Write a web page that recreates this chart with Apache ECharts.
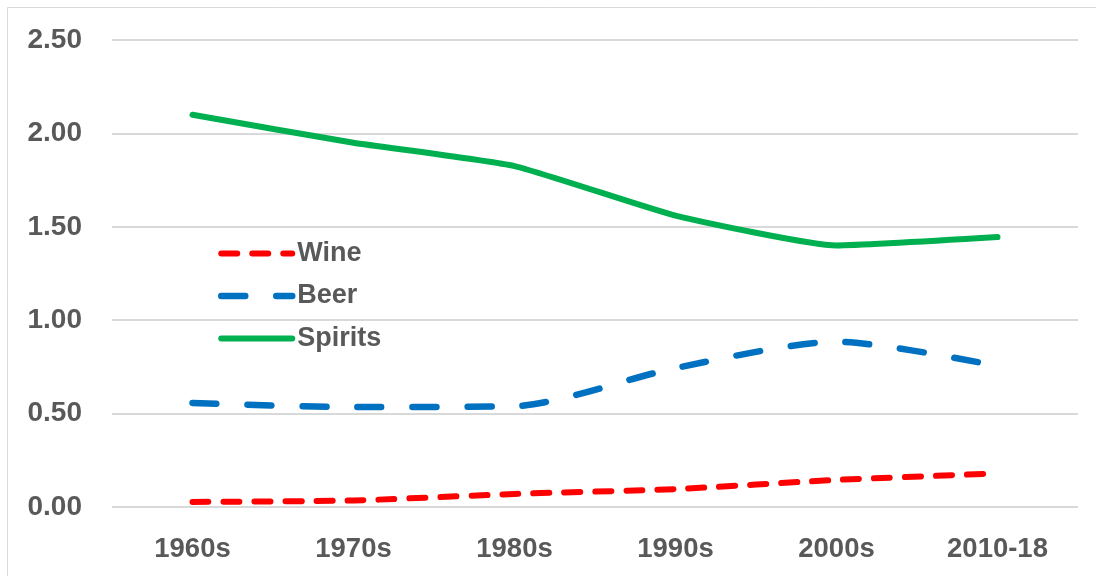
<!DOCTYPE html>
<html>
<head>
<meta charset="utf-8">
<script src="https://cdn.jsdelivr.net/npm/echarts@6/dist/echarts.min.js"></script>
<style>html,body{margin:0;padding:0;background:#fff}#c{width:1096px;height:576px}</style>
</head>
<body>
<div id="c"></div>
<script>
const categories = ['1960s', '1970s', '1980s', '1990s', '2000s', '2010-18'];
const wine = [0.027, 0.035, 0.07, 0.096, 0.145, 0.18];
const beer = [0.557, 0.535, 0.54, 0.744, 0.885, 0.755];
const spirits = [2.10, 1.95, 1.825, 1.56, 1.40, 1.445];
const yTicks = { min: 0, max: 2.5, interval: 0.5 };

const font = 'Liberation Sans';
const textColor = '#595959';
const chart = echarts.init(document.getElementById('c'), null, { renderer: 'canvas' });
chart.setOption({
  backgroundColor: '#fff',
  animation: false,
  graphic: [
    { type: 'line', shape: { x1: 7.5, y1: 7.5, x2: 1096, y2: 7.5 }, style: { stroke: '#d9d9d9', lineWidth: 1 } },
    { type: 'line', shape: { x1: 7.5, y1: 7.5, x2: 7.5, y2: 576 }, style: { stroke: '#d9d9d9', lineWidth: 1 } }
  ],
  grid: { left: 112, right: 18, top: 40, bottom: 69, containLabel: false },
  legend: {
    orient: 'vertical',
    left: 213,
    top: 235,
    itemWidth: 71,
    itemHeight: 14,
    itemGap: 15.5,
    itemStyle: { opacity: 0 },
    lineStyle: { width: 'inherit', type: 'inherit', cap: 'round' },
    textStyle: { fontFamily: font, fontWeight: 'bold', fontSize: 27, color: textColor },
    data: ['Wine', 'Beer', 'Spirits']
  },
  xAxis: {
    type: 'category',
    data: categories,
    boundaryGap: true,
    axisLine: { show: false },
    axisTick: { show: false },
    axisLabel: { fontFamily: font, fontWeight: 'bold', fontSize: 27.5, color: textColor, margin: 28 }
  },
  yAxis: {
    type: 'value',
    min: yTicks.min, max: yTicks.max, interval: yTicks.interval,
    axisLine: { show: false },
    axisTick: { show: false },
    splitLine: { lineStyle: { color: '#d9d9d9', width: 2 } },
    axisLabel: {
      fontFamily: font, fontWeight: 'bold', fontSize: 28, color: textColor, margin: 30,
      formatter: v => v.toFixed(2)
    }
  },
  series: [
    {
      name: 'Wine', type: 'line', data: wine, symbol: 'none', smooth: 0.2,
      itemStyle: { color: '#ff0000' },
      lineStyle: { color: '#ff0000', width: 6, type: [16, 15], cap: 'round' }
    },
    {
      name: 'Beer', type: 'line', data: beer, symbol: 'none', smooth: 0.25,
      itemStyle: { color: '#0070c0' },
      lineStyle: { color: '#0070c0', width: 6.5, type: [24, 31], cap: 'round' }
    },
    {
      name: 'Spirits', type: 'line', data: spirits, symbol: 'none', smooth: 0.15,
      itemStyle: { color: '#00b050' },
      lineStyle: { color: '#00b050', width: 6, cap: 'round' }
    }
  ]
});
</script>
</body>
</html>
